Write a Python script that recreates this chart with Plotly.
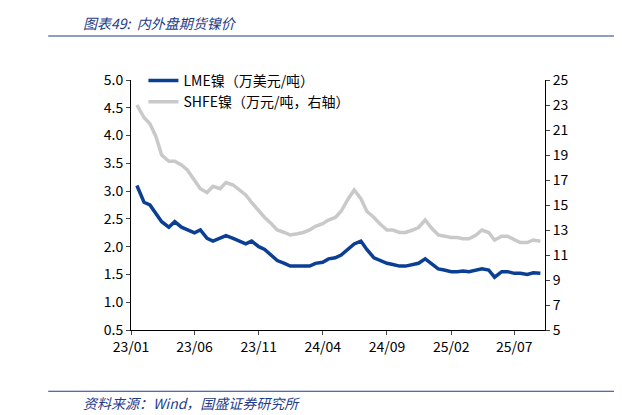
import plotly.graph_objects as go
import pandas as pd

dates = pd.date_range("2023-01-03", "2025-09-10", freq="SMS")
lme = [3.1, 2.8, 2.75, 2.6, 2.45, 2.35, 2.45, 2.35, 2.3, 2.25, 2.3, 2.15, 2.1, 2.15, 2.2, 2.15,
       2.1, 2.05, 2.1, 2.0, 1.95, 1.85, 1.75, 1.7, 1.65, 1.65, 1.65, 1.65, 1.7, 1.72, 1.78, 1.8,
       1.85, 1.95, 2.05, 2.1, 1.95, 1.8, 1.75, 1.7, 1.68, 1.65, 1.65, 1.68, 1.7, 1.78, 1.7, 1.6,
       1.58, 1.55, 1.55, 1.56, 1.55, 1.58, 1.6, 1.58, 1.45, 1.55, 1.55, 1.52, 1.52, 1.5, 1.53, 1.52,
       1.5, 1.5, 1.52][:len(dates)]
shfe = [23.0, 22.0, 21.5, 20.5, 19.0, 18.5, 18.5, 18.2, 17.8, 17.0, 16.3, 16.0, 16.5, 16.3, 16.8, 16.6,
        16.2, 15.8, 15.2, 14.5, 14.0, 13.5, 13.0, 12.8, 12.6, 12.7, 12.8, 13.0, 13.3, 13.5, 13.8, 14.0,
        14.5, 15.5, 16.2, 15.5, 14.5, 14.0, 13.5, 13.0, 13.0, 12.8, 12.8, 13.0, 13.2, 13.8, 13.2, 12.6,
        12.5, 12.4, 12.4, 12.3, 12.3, 12.6, 13.0, 12.8, 12.2, 12.5, 12.5, 12.2, 12.0, 12.0, 12.2, 12.1,
        12.2, 12.1, 12.3][:len(dates)]

ticks = ["2023-01-01", "2023-06-01", "2023-11-01", "2024-04-01", "2024-09-01", "2025-02-01", "2025-07-01"]
tick_text = ["23/01", "23/06", "23/11", "24/04", "24/09", "25/02", "25/07"]

fig = go.Figure()
fig.add_trace(go.Scatter(x=dates[:len(shfe)], y=shfe, name="SHFE镍（万元/吨，右轴）",
                         line=dict(color="#c9c9c9", width=3.5), yaxis="y2"))
fig.add_trace(go.Scatter(x=dates[:len(lme)], y=lme, name="LME镍（万美元/吨）",
                         line=dict(color="#0b3f94", width=3.5)))

font = dict(family="Noto Sans CJK SC, Arial", size=14, color="black")
fig.update_layout(
    width=622, height=415, plot_bgcolor="white", paper_bgcolor="white",
    margin=dict(l=123, r=85, t=72, b=93, autoexpand=False), font=font, showlegend=True,
    legend=dict(x=0.03, y=1.06, bgcolor="rgba(0,0,0,0)", font=dict(size=14), traceorder="reversed"),
    xaxis=dict(tickvals=ticks, ticktext=tick_text, range=["2023-01-01", "2025-09-12"],
               showline=True, linecolor="black", ticks="outside", ticklen=4, showgrid=False,
               automargin=False),
    yaxis=dict(range=[0.5, 5.0], dtick=0.5, tickformat=".1f", showline=True, linecolor="black",
               ticks="outside", ticklen=4, showgrid=False, automargin=False),
    yaxis2=dict(range=[5, 25], tick0=5, dtick=2, overlaying="y", side="right", showline=True,
                linecolor="black", ticks="outside", ticklen=4, showgrid=False, automargin=False),
)
fig.add_annotation(text="<i>图表49:  内外盘期货镍价</i>", xref="paper", yref="paper",
                   x=-0.12, y=1.228, xanchor="left", yanchor="middle", showarrow=False,
                   font=dict(size=14, color="#1f3d8a"))
fig.add_shape(type="line", xref="paper", yref="paper", x0=-0.2, x1=1.2, y0=1.176, y1=1.176,
              line=dict(color="#1f3d8a", width=1))
fig.add_shape(type="line", xref="paper", yref="paper", x0=-0.2, x1=1.2, y0=-0.245, y1=-0.245,
              line=dict(color="#1f3d8a", width=1))
fig.add_annotation(text="<i>资料来源：Wind，国盛证券研究所</i>", xref="paper", yref="paper",
                   x=-0.12, y=-0.29, xanchor="left", yanchor="middle", showarrow=False,
                   font=dict(size=14, color="#1f3d8a"))
fig.write_html("out.html")
